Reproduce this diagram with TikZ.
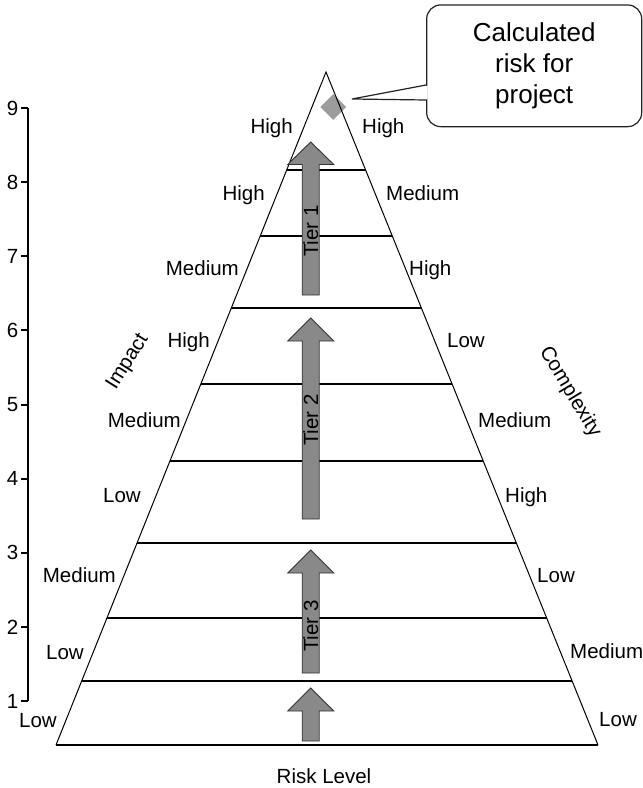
\documentclass[tikz,border=0pt]{standalone}
\usepackage{fontspec}
\setmainfont{Liberation Sans}
\usetikzlibrary{calc,shapes.geometric}

\definecolor{arrowgray}{HTML}{898989}
\definecolor{arrowline}{HTML}{333333}
\definecolor{riskgray}{HTML}{9C9C9C}
\definecolor{calloutline}{HTML}{222222}
\definecolor{baseline}{HTML}{3A3A3A}

% upward block arrow centred on the pyramid axis: tip, head base, tail (y values)
\newcommand\tierblock[3]{%
  \draw[tierarrow] (310.7,#1) -- (333.7,#2) -- (319.2,#2) -- (319.2,#3)
    -- (302.2,#3) -- (302.2,#2) -- (287.7,#2) -- cycle;}

\begin{document}
\begin{tikzpicture}[x=1pt,y=-1pt,
  lbl/.style={inner sep=0pt, font=\fontsize{20.5}{24}\selectfont},
  band/.style={line width=1.8pt},
  side/.style={line width=1pt},
  tierarrow/.style={fill=arrowgray, draw=arrowline, line width=0.9pt, line join=miter},
  tiertext/.style={lbl, rotate=90},
  axisline/.style={line width=2pt},
  calloutbox/.style={draw=calloutline, line width=1.2pt, rounded corners=14pt,
    fill=white, minimum width=215pt, minimum height=121.7pt, inner sep=0pt,
    align=center, font=\fontsize{26}{31}\selectfont},
]
\useasboundingbox (0,0) rectangle (643,788);

% pyramid corners
\coordinate (apex) at (326,72);
\coordinate (bl) at (56,745);
\coordinate (br) at (598,745);

% calculated risk marker
\node[diamond, aspect=1, fill=riskgray, inner sep=0pt, minimum size=26pt] (risk) at (333.3,107) {};

% pyramid outline
\draw[side] (bl) -- (apex) -- (br);
\draw[line width=1.5pt, baseline] (bl) -- (br);

% band separators
\foreach \y [count=\i] in {170,236,308,384,461,543,618,681} {
  \pgfmathsetmacro\t{(745-\y)/673}
  \coordinate (bandL\i) at ($(bl)!\t!(apex)$);
  \coordinate (bandR\i) at ($(br)!\t!(apex)$);
  \draw[band] (bandL\i) -- (bandR\i);
}

% tier arrows
\tierblock{142}{164.5}{295}
\tierblock{318}{341}{519}
\tierblock{550}{573}{673}
\tierblock{688}{711}{741}
\node[tiertext] (tier1) at (310.7,231) {Tier 1};
\node[tiertext] (tier2) at (310.7,420) {Tier 2};
\node[tiertext] (tier3) at (310.7,626) {Tier 3};

% impact levels (left side)
\foreach \x/\y/\txt [count=\i] in {293/133.5/High, 265/200/High, 239/275/Medium,
    210/347/High, 181/427/Medium, 141/502/Low, 116/582/Medium, 84/659.5/Low, 57/727/Low}
  \node[lbl, anchor=base east] (imp\i) at (\x,\y) {\txt};

% complexity levels (right side)
\foreach \x/\y/\txt [count=\i] in {362/133.5/High, 386/200/Medium, 409/275/High,
    447/347/Low, 478/427/Medium, 505/502/High, 537/582/Low, 570/658/Medium, 599/726/Low}
  \node[lbl, anchor=base west] (cpx\i) at (\x,\y) {\txt};

\node[lbl, rotate=58] (impact) at (128,362) {Impact};
\node[lbl, rotate=-59] (complexity) at (570,392) {Complexity};
\node[lbl, anchor=base] (risklevel) at (324,783) {Risk Level};

% risk scale
\coordinate (axtop) at (27.7,108);
\coordinate (axbot) at (27.7,701);
\draw[axisline] (axtop) -- (axbot);
\foreach \k in {1,...,9} {
  \pgfmathsetmacro\yy{701-(\k-1)*74.125}
  \coordinate (tk\k) at (27.7,\yy);
  \draw[axisline] (tk\k) -- ++(-7,0);
  \node[lbl, anchor=east] (num\k) at (18.5,\yy) {\k};
}

% callout
\node[calloutbox] (callout) at (534.2,65.8) {Calculated\\risk for\\project};
\coordinate (ptip) at (352,99);
\coordinate (pa) at ($(callout.west)+(0,19.2)$);
\coordinate (pb) at ($(callout.west)+(0,34.2)$);
\fill[white] ($(pa)+(1.6,0.7)$) -- (ptip) -- ($(pb)+(1.6,-0.7)$) -- cycle;
\draw[line width=1.2pt, calloutline, line join=miter] (pa) -- (ptip) -- (pb);
\end{tikzpicture}
\end{document}
